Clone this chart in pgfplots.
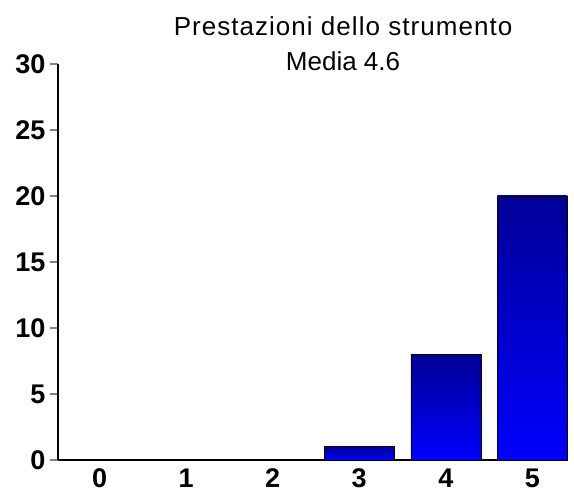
\documentclass[border=0pt]{standalone}
\usepackage{pgfplots}
\pgfplotsset{compat=1.18}
\usepackage{fontspec}
\setmainfont{Liberation Sans}
\definecolor{bartop}{RGB}{0,0,150}
\definecolor{barmid}{RGB}{0,0,218}
\definecolor{barbot}{RGB}{0,0,255}
\begin{document}
\begin{tikzpicture}
\useasboundingbox (-58pt,-33pt) rectangle (516pt,460pt);
\begin{axis}[
  at={(0,0)}, anchor=south west,
  scale only axis, width=509pt, height=396pt,
  xmin=-0.48, xmax=5.4, ymin=0, ymax=30,
  clip=false,
  axis x line*=bottom, axis y line*=left,
  axis line style={line width=1.1pt},
  xtick={0,1,2,3,4,5},
  ytick={0,5,10,15,20,25,30},
  x tick style={draw=none},
  y tick style={line width=1.1pt},
  tick align=outside, major tick length=8pt,
  /pgf/number format/assume math mode=true,
  tick label style={font=\bfseries\fontsize{27}{27}\selectfont},
  xticklabel style={yshift=3pt},
  yticklabel style={xshift=-1pt},
  ybar, bar width=70pt, bar shift=0pt,
  mybar/.style={draw=black, line width=0.6pt, shading=axis, top color=bartop, middle color=barmid, bottom color=barbot},
]
\addplot[mybar] coordinates {(0,0)};
\addplot[mybar] coordinates {(1,0)};
\addplot[mybar] coordinates {(2,0)};
\addplot[mybar] coordinates {(3,1)};
\addplot[mybar] coordinates {(4,8)};
\addplot[mybar] coordinates {(5,20)};
\node[anchor=base, font=\fontsize{26}{26}\selectfont\addfontfeatures{LetterSpace=4}] at (rel axis cs:0.56,1) [yshift=28pt] {Prestazioni dello strumento};
\node[anchor=base, font=\fontsize{26}{26}\selectfont] at (rel axis cs:0.56,1) [yshift=-7pt] {Media 4.6};
\end{axis}
\end{tikzpicture}
\end{document}
